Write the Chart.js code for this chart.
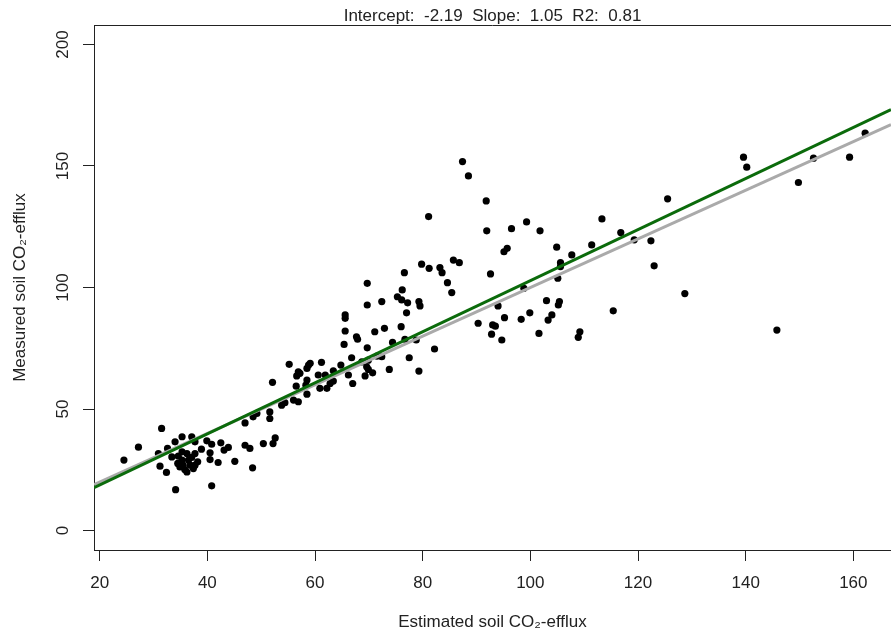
<!DOCTYPE html>
<html lang="en">
<head>
<meta charset="UTF-8">
<title>Measured vs estimated soil CO2-efflux</title>
<script src="https://cdn.jsdelivr.net/npm/chart.js"></script>
<style>
    html, body {
        margin: 0;
        padding: 0;
        background: #ffffff;
    }
    #wrap {
        width: 891px;
        height: 635px;
    }
</style>
</head>
<body>
<div id="wrap">
    <canvas id="fluxChart" width="891" height="635"></canvas>
</div>

<script>
    // Estimated (x) and measured (y) soil CO2-efflux, one value per point
    const estimated = [
        24.5, 27.2, 31.5, 30.9, 31.2, 32.4, 32.6, 33.4, 34.0, 34.1,
        35.3, 35.3, 37.1, 37.7, 38.9, 39.9, 40.8, 40.5, 40.5, 42.0,
        42.5, 43.1, 43.9, 45.1, 47.0, 47.9, 48.4, 40.8, 47.0, 48.5,
        49.2, 50.4, 51.6, 51.6, 52.2, 52.6, 52.1, 34.6, 35.3, 36.2,
        37.1, 37.7, 36.8, 35.8, 34.9, 37.7, 38.2, 35.5, 36.5, 37.4,
        34.5, 36.2, 69.7, 69.7, 65.6, 65.6, 65.6, 67.7, 67.9, 71.1,
        65.4, 69.7, 66.8, 68.7, 69.9, 71.5, 55.2, 58.8, 59.1, 58.5,
        61.2, 56.9, 56.6, 57.2, 60.6, 61.9, 63.4, 64.8, 66.2, 69.6,
        69.9, 70.7, 69.3, 58.5, 58.3, 56.5, 63.4, 62.8, 60.9, 62.2,
        67.0, 58.5, 56.0, 56.9, 54.4, 53.8, 87.4, 88.5, 91.8, 81.1,
        91.9, 96.5, 99.3, 101.8, 95.1, 95.7, 104.9, 107.7, 111.4, 105.6,
        105.6, 105.1, 79.8, 81.2, 83.2, 83.6, 85.7, 86.8, 76.6, 84.6,
        85.4, 92.6, 98.8, 76.2, 75.3, 76.1, 77.2, 79.3, 79.5, 72.4,
        77.0, 72.9, 76.0, 74.4, 76.7, 78.8, 82.2, 77.5, 72.4, 73.8,
        79.3, 94.0, 103.0, 105.4, 105.2, 99.9, 98.3, 95.2, 90.3, 93.0,
        93.5, 92.8, 94.7, 101.6, 104.0, 103.3, 109.2, 108.9, 125.5, 113.3,
        116.8, 119.3, 122.4, 123.0, 128.7, 115.4, 139.6, 140.2, 149.8, 152.6,
        159.3, 162.2, 145.8
    ];
    const measured = [
        29.0, 34.3, 42.0, 31.7, 26.5, 23.9, 33.8, 30.3, 36.5, 16.8,
        38.6, 32.4, 38.6, 36.5, 33.5, 36.9, 35.5, 32.0, 29.2, 28.0,
        36.1, 33.1, 34.2, 28.5, 35.1, 33.8, 25.8, 18.4, 44.3, 46.8,
        48.2, 35.8, 48.8, 46.1, 35.8, 38.1, 61.0, 30.6, 29.0, 31.7,
        30.1, 31.7, 26.9, 25.1, 26.2, 26.9, 28.3, 26.9, 29.0, 25.5,
        27.6, 24.1, 101.7, 92.8, 88.7, 87.3, 82.1, 79.7, 78.7, 81.8,
        76.6, 75.2, 71.1, 69.4, 70.1, 71.8, 68.4, 68.1, 68.8, 66.7,
        69.2, 65.3, 63.6, 64.7, 64.0, 64.0, 65.7, 68.1, 64.0, 67.4,
        66.3, 64.9, 63.6, 61.9, 59.8, 59.4, 61.5, 60.5, 58.5, 58.5,
        60.5, 56.1, 53.7, 53.0, 52.6, 51.6, 151.8, 145.9, 135.6, 129.2,
        123.3, 124.2, 127.0, 123.3, 114.7, 116.1, 116.6, 113.4, 117.5, 110.2,
        108.6, 103.8, 109.6, 107.9, 108.2, 106.1, 111.3, 110.2, 106.1, 102.0,
        97.9, 105.6, 99.7, 99.0, 96.2, 94.9, 93.7, 94.2, 92.4, 94.2,
        89.6, 83.2, 83.9, 77.4, 78.7, 78.4, 74.7, 71.1, 71.5, 66.3,
        65.6, 92.4, 94.6, 94.2, 92.8, 89.6, 86.9, 87.6, 85.3, 84.6,
        84.1, 80.8, 78.4, 81.1, 88.7, 86.6, 81.8, 79.5, 136.5, 128.2,
        122.6, 119.6, 119.2, 108.9, 97.5, 90.4, 153.6, 149.5, 143.2, 153.2,
        153.6, 163.5, 82.5
    ];

    // axis ticks
    const xTicks = [20, 40, 60, 80, 100, 120, 140, 160];
    const yTicks = [0, 50, 100, 150, 200];

    // regression of measured on estimated, and the 1:1 reference line
    const fitIntercept = -2.19;
    const fitSlope = 1.05;
    const fitR2 = 0.81;
    const refIntercept = 0;
    const refSlope = 1;

    // axis limits
    const xRange = [18.94, 167];
    const yRange = [-8, 208];

    const textFont = { family: '"Liberation Sans", Arial, sans-serif', size: 17, weight: 'normal' };
    const textColor = '#222222';

    // straight line y = a + b*x across the whole x axis (like R's abline)
    function ablinePoints(a, b) {
        return xRange.map(x => ({ x: x, y: a + b * x }));
    }

    // top edge of the plot box (left/bottom come from the axis borders)
    const framePlugin = {
        id: 'frame',
        afterDraw(chart) {
            const ctx = chart.ctx;
            const area = chart.chartArea;
            ctx.save();
            ctx.strokeStyle = textColor;
            ctx.lineWidth = 1;
            ctx.beginPath();
            ctx.moveTo(area.left, area.top + 0.5);
            ctx.lineTo(area.right, area.top + 0.5);
            ctx.stroke();
            ctx.restore();
        }
    };

    function renderChart() {
        const ctx = document.getElementById('fluxChart').getContext('2d');
        const points = estimated.map((x, i) => ({ x: x, y: measured[i] }));

        new Chart(ctx, {
            type: 'scatter',
            data: {
                datasets: [
                    {
                        label: 'fit',
                        data: ablinePoints(fitIntercept, fitSlope),
                        showLine: true,
                        borderColor: '#0b6b0b',
                        borderWidth: 3,
                        pointRadius: 0,
                        order: 1
                    },
                    {
                        label: '1:1',
                        data: ablinePoints(refIntercept, refSlope),
                        showLine: true,
                        borderColor: '#aaaaaa',
                        borderWidth: 3,
                        pointRadius: 0,
                        order: 2
                    },
                    {
                        label: 'observations',
                        data: points,
                        pointRadius: 3.6,
                        pointBackgroundColor: '#000000',
                        pointBorderWidth: 0,
                        order: 3
                    }
                ]
            },
            options: {
                responsive: false,
                animation: false,
                devicePixelRatio: 1,
                events: [],
                layout: { padding: 0, autoPadding: false },
                plugins: {
                    legend: { display: false },
                    tooltip: { enabled: false },
                    title: {
                        display: true,
                        fullSize: false,
                        text: 'Intercept:  ' + fitIntercept + '  Slope:  ' + fitSlope + '  R2:  ' + fitR2,
                        color: textColor,
                        font: { family: textFont.family, size: 17, weight: 'normal', lineHeight: 1 },
                        padding: { top: 8, bottom: 0 }
                    }
                },
                scales: {
                    x: {
                        type: 'linear',
                        min: xRange[0],
                        max: xRange[1],
                        afterBuildTicks: scale => { scale.ticks = xTicks.map(v => ({ value: v })); },
                        afterFit: scale => { scale.height = 85; },
                        ticks: { font: textFont, color: textColor, padding: 11.8, includeBounds: false, maxRotation: 0 },
                        grid: { drawOnChartArea: false, drawTicks: true, tickLength: 11, tickColor: textColor, tickWidth: 1 },
                        border: { display: true, color: textColor, width: 1 },
                        title: {
                            display: true,
                            text: 'Estimated soil CO\u2082-efflux',
                            color: textColor,
                            font: textFont,
                            padding: { top: 0, bottom: 2.8 }
                        }
                    },
                    y: {
                        type: 'linear',
                        min: yRange[0],
                        max: yRange[1],
                        afterBuildTicks: scale => { scale.ticks = yTicks.map(v => ({ value: v })); },
                        afterFit: scale => { scale.width = 94; },
                        ticks: { font: textFont, color: textColor, padding: 5.8, minRotation: 90, maxRotation: 90, crossAlign: 'center', includeBounds: false },
                        grid: { drawOnChartArea: false, drawTicks: true, tickLength: 11, tickColor: textColor, tickWidth: 1 },
                        border: { display: true, color: textColor, width: 1 },
                        title: {
                            display: true,
                            text: 'Measured soil CO\u2082-efflux',
                            color: textColor,
                            font: textFont,
                            padding: { top: 9.8, bottom: 0 }
                        }
                    }
                }
            },
            plugins: [framePlugin]
        });
    }

    window.onload = renderChart;
</script>
</body>
</html>
